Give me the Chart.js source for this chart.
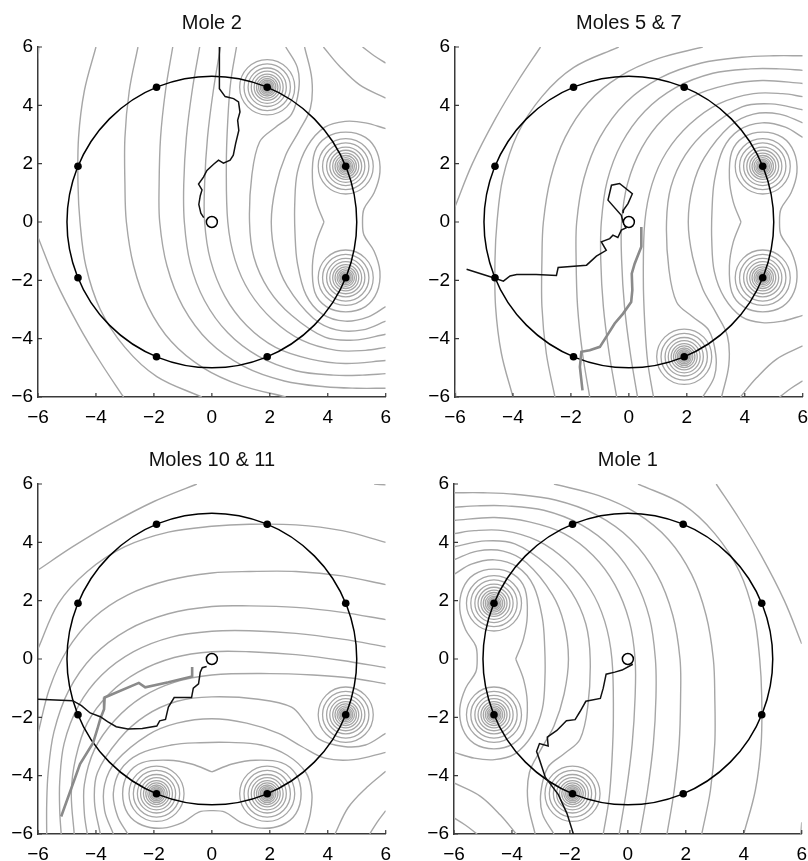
<!DOCTYPE html>
<html>
<head>
<meta charset="utf-8">
<script src="https://cdn.jsdelivr.net/npm/chart.js@4.4.1/dist/chart.umd.min.js"></script>
<style>
  body { margin: 0; background: #fff; width: 808px; height: 861px; overflow: hidden; position: relative; }
  .panel { position: absolute; width: 400px; height: 430px; }
</style>
</head>
<body>
<div class="panel" style="left:0;top:0"><canvas id="mole2" width="400" height="430"></canvas></div>
<div class="panel" style="left:417px;top:0"><canvas id="mole57" width="400" height="430"></canvas></div>
<div class="panel" style="left:0;top:437px"><canvas id="mole1011" width="400" height="430"></canvas></div>
<div class="panel" style="left:416px;top:437px"><canvas id="mole1" width="400" height="430"></canvas></div>
<script>
const FONT = "'Liberation Sans', Arial, Helvetica, sans-serif";
const axisTicks = [-6, -4, -2, 0, 2, 4, 6];
const arenaRadius = 5;
const startPoint = [0, 0];

// the 8 odour ports round the arena
const receptorX = [4.62, 1.91, -1.91, -4.62, -4.62, -1.91, 1.91, 4.62];
const receptorY = [1.91, 4.62, 4.62, 1.91, -1.91, -4.62, -4.62, -1.91];

// rings drawn round each active port (arena units)
const ringRadii = [0.95, 0.8, 0.66, 0.55, 0.45, 0.37, 0.3, 0.24, 0.19, 0.15, 0.11, 0.08];

// ---------- Mole 2 ----------
const mole2Sources = [1, 0, 7];
const mole2Contours = [
  [[-5.97,6],[-6,5.6]],
  [[-6,-0.52],[-5.4,-2.0],[-4.6,-3.55],[-3.85,-4.8],[-3.05,-6]],
  [[-4.0,6],[-4.4,4.5],[-4.6,2.9],[-4.62,1.3],[-4.55,0],[-4.35,-1.5],[-3.85,-3.0],[-3.0,-4.3],[-1.9,-5.3],[-0.35,-6]],
  [[-2.55,6],[-2.85,4.5],[-3.0,2.9],[-3.0,1.3],[-2.95,0],[-2.7,-1.5],[-2.2,-2.9],[-1.4,-4.1],[-0.3,-5.0],[1.0,-5.6],[2.55,-6]],
  [[-1.35,6],[-1.6,4.5],[-1.77,2.9],[-1.82,1.3],[-1.8,0],[-1.55,-1.5],[-1.0,-2.9],[-0.1,-4.1],[1.1,-4.95],[2.5,-5.45],[3.9,-5.65],[5.0,-5.7],[6,-5.7]],
  [[-0.42,6],[-0.68,4.5],[-0.88,2.9],[-0.97,1.3],[-0.95,0],[-0.75,-1.4],[-0.25,-2.7],[0.55,-3.8],[1.6,-4.6],[2.9,-5.1],[4.2,-5.25],[5.2,-5.25],[6,-5.2]],
  [[0.3,6],[0.05,4.5],[-0.15,2.9],[-0.25,1.3],[-0.25,0],[-0.05,-1.3],[0.45,-2.55],[1.2,-3.55],[2.2,-4.3],[3.4,-4.7],[4.6,-4.85],[6,-4.75]],
  [[0.85,6],[0.65,4.8],[0.55,3.5],[0.5,2.0],[0.55,0],[0.8,-1.3],[1.3,-2.4],[2.1,-3.35],[3.1,-4.05],[4.3,-4.4],[5.3,-4.4],[6,-4.3]],
  [[2.55,6],[2.95,5.3],[3.0,4.55],[2.75,3.7],[2.2,3.25],[1.65,2.75],[1.38,1.6],[1.3,0],[1.45,-1.2],[1.95,-2.3],[2.75,-3.2],[3.9,-3.95],[4.9,-4.05],[6,-3.85]],
  [[3.2,6],[3.45,4.9],[3.4,3.9],[3.0,3.1],[2.55,2.3],[2.2,1.2],[2.05,0],[2.2,-1.2],[2.6,-2.2],[3.5,-3.3],[4.3,-3.7],[5.2,-3.7],[6,-3.4]],
  [[6,3.2],[5.3,3.4],[4.6,3.45],[3.9,3.25],[3.3,2.6],[2.95,1.7],[2.86,0.6],[2.87,-0.4],[2.95,-1.4],[3.25,-2.5],[3.8,-3.15],[4.6,-3.4],[5.4,-3.25],[6,-2.9]],
  [[3.85,6],[4.4,5.35],[5.1,4.7],[6,4.25]],
  [[5.2,6],[5.6,5.7],[6,5.45]],
  [[3.87,0],[3.6,0.7],[3.47,1.5],[3.55,2.4],[3.95,2.9],[4.62,3.08],[5.3,2.9],[5.7,2.4],[5.8,1.7],[5.6,1.0],[5.25,0.45],[5.2,0],[5.25,-0.45],[5.6,-1.0],[5.8,-1.7],[5.7,-2.4],[5.3,-2.9],[4.62,-3.08],[3.95,-2.9],[3.55,-2.4],[3.47,-1.5],[3.6,-0.7],[3.87,0]]
];
const mole2Path = [[0.26,6],[0.26,4.57],[0.46,4.3],[0.75,4.23],[0.92,4.12],[0.97,3.77],[0.89,3.49],[0.93,3.14],[0.82,2.69],[0.74,2.29],[0.63,2.12],[0.4,2.02],[0.23,2.12],[0.06,1.98],[-0.17,1.77],[-0.29,1.54],[-0.46,1.3],[-0.34,1.1],[-0.4,0.9],[-0.45,0.6],[-0.38,0.3],[-0.28,0.15]];

// ---------- Moles 5 & 7 ----------
const mole57Sources = [0, 7, 6];
const mole57Contours = [
  [[-5.97,-6],[-6,-5.6]],
  [[-6,0.52],[-5.4,2.0],[-4.6,3.55],[-3.85,4.8],[-3.05,6]],
  [[-4.0,-6],[-4.4,-4.5],[-4.6,-2.9],[-4.62,-1.3],[-4.55,0],[-4.35,1.5],[-3.85,3.0],[-3.0,4.3],[-1.9,5.3],[-0.35,6]],
  [[-2.55,-6],[-2.85,-4.5],[-3.0,-2.9],[-3.0,-1.3],[-2.95,0],[-2.7,1.5],[-2.2,2.9],[-1.4,4.1],[-0.3,5.0],[1.0,5.6],[2.55,6]],
  [[-1.35,-6],[-1.6,-4.5],[-1.77,-2.9],[-1.82,-1.3],[-1.8,0],[-1.55,1.5],[-1.0,2.9],[-0.1,4.1],[1.1,4.95],[2.5,5.45],[3.9,5.65],[5.0,5.7],[6,5.7]],
  [[-0.42,-6],[-0.68,-4.5],[-0.88,-2.9],[-0.97,-1.3],[-0.95,0],[-0.75,1.4],[-0.25,2.7],[0.55,3.8],[1.6,4.6],[2.9,5.1],[4.2,5.25],[5.2,5.25],[6,5.2]],
  [[0.3,-6],[0.05,-4.5],[-0.15,-2.9],[-0.25,-1.3],[-0.25,0],[-0.05,1.3],[0.45,2.55],[1.2,3.55],[2.2,4.3],[3.4,4.7],[4.6,4.85],[6,4.75]],
  [[0.85,-6],[0.65,-4.8],[0.55,-3.5],[0.5,-2.0],[0.55,0],[0.8,1.3],[1.3,2.4],[2.1,3.35],[3.1,4.05],[4.3,4.4],[5.3,4.4],[6,4.3]],
  [[2.55,-6],[2.95,-5.3],[3.0,-4.55],[2.75,-3.7],[2.2,-3.25],[1.65,-2.75],[1.38,-1.6],[1.3,0],[1.45,1.2],[1.95,2.3],[2.75,3.2],[3.9,3.95],[4.9,4.05],[6,3.85]],
  [[3.2,-6],[3.45,-4.9],[3.4,-3.9],[3.0,-3.1],[2.55,-2.3],[2.2,-1.2],[2.05,0],[2.2,1.2],[2.6,2.2],[3.5,3.3],[4.3,3.7],[5.2,3.7],[6,3.4]],
  [[6,-3.2],[5.3,-3.4],[4.6,-3.45],[3.9,-3.25],[3.3,-2.6],[2.95,-1.7],[2.86,-0.6],[2.87,0.4],[2.95,1.4],[3.25,2.5],[3.8,3.15],[4.6,3.4],[5.4,3.25],[6,2.9]],
  [[3.85,-6],[4.4,-5.35],[5.1,-4.7],[6,-4.25]],
  [[5.2,-6],[5.6,-5.7],[6,-5.45]],
  [[3.87,0],[3.6,-0.7],[3.47,-1.5],[3.55,-2.4],[3.95,-2.9],[4.62,-3.08],[5.3,-2.9],[5.7,-2.4],[5.8,-1.7],[5.6,-1.0],[5.25,-0.45],[5.2,0],[5.25,0.45],[5.6,1.0],[5.8,1.7],[5.7,2.4],[5.3,2.9],[4.62,3.08],[3.95,2.9],[3.55,2.4],[3.47,1.5],[3.6,0.7],[3.87,0]]
];
const mole57Path = [[-5.6,-1.62],[-4.62,-1.93],[-4.33,-2.03],[-4.1,-1.85],[-3.87,-1.8],[-3.2,-1.8],[-2.5,-1.83],[-2.44,-1.56],[-1.46,-1.48],[-1.12,-1.17],[-0.78,-0.97],[-0.95,-0.68],[-0.66,-0.57],[-0.55,-0.45],[-0.38,-0.53],[-0.26,-0.28],[-0.1,-0.2],[-0.2,0.0],[-0.26,0.23],[-0.72,0.75],[-0.6,1.26],[-0.32,1.32],[0.12,0.97],[-0.03,0.63],[-0.18,0.42],[-0.2,0.3]];
const mole57GreyPath = [[0.43,-0.17],[0.43,-0.85],[0.2,-1.43],[0.1,-1.77],[0.12,-2.34],[0.08,-2.74],[-0.2,-3.14],[-0.49,-3.48],[-0.78,-3.94],[-1.0,-4.28],[-1.35,-4.4],[-1.64,-4.45],[-1.69,-4.97],[-1.6,-5.77]];

// ---------- Moles 10 & 11 ----------
const mole1011Sources = [7, 6, 5];
const mole1011Contours = [
  [[6,5.97],[5.6,6]],
  [[-0.52,6],[-2.0,5.4],[-3.55,4.6],[-4.8,3.85],[-6,3.05]],
  [[6,4.0],[4.5,4.4],[2.9,4.6],[1.3,4.62],[0,4.55],[-1.5,4.35],[-3.0,3.85],[-4.3,3.0],[-5.3,1.9],[-6,0.35]],
  [[6,2.55],[4.5,2.85],[2.9,3.0],[1.3,3.0],[0,2.95],[-1.5,2.7],[-2.9,2.2],[-4.1,1.4],[-5.0,0.3],[-5.6,-1.0],[-6,-2.55]],
  [[6,1.35],[4.5,1.6],[2.9,1.77],[1.3,1.82],[0,1.8],[-1.5,1.55],[-2.9,1.0],[-4.1,0.1],[-4.95,-1.1],[-5.45,-2.5],[-5.65,-3.9],[-5.7,-5.0],[-5.7,-6]],
  [[6,0.42],[4.5,0.68],[2.9,0.88],[1.3,0.97],[0,0.95],[-1.4,0.75],[-2.7,0.25],[-3.8,-0.55],[-4.6,-1.6],[-5.1,-2.9],[-5.25,-4.2],[-5.25,-5.2],[-5.2,-6]],
  [[6,-0.3],[4.5,-0.05],[2.9,0.15],[1.3,0.25],[0,0.25],[-1.3,0.05],[-2.55,-0.45],[-3.55,-1.2],[-4.3,-2.2],[-4.7,-3.4],[-4.85,-4.6],[-4.75,-6]],
  [[6,-0.85],[4.8,-0.65],[3.5,-0.55],[2.0,-0.5],[0,-0.55],[-1.3,-0.8],[-2.4,-1.3],[-3.35,-2.1],[-4.05,-3.1],[-4.4,-4.3],[-4.4,-5.3],[-4.3,-6]],
  [[6,-2.55],[5.3,-2.95],[4.55,-3.0],[3.7,-2.75],[3.25,-2.2],[2.75,-1.65],[1.6,-1.38],[0,-1.3],[-1.2,-1.45],[-2.3,-1.95],[-3.2,-2.75],[-3.95,-3.9],[-4.05,-4.9],[-3.85,-6]],
  [[6,-3.2],[4.9,-3.45],[3.9,-3.4],[3.1,-3.0],[2.3,-2.55],[1.2,-2.2],[0,-2.05],[-1.2,-2.2],[-2.2,-2.6],[-3.3,-3.5],[-3.7,-4.3],[-3.7,-5.2],[-3.4,-6]],
  [[3.2,-6],[3.4,-5.3],[3.45,-4.6],[3.25,-3.9],[2.6,-3.3],[1.7,-2.95],[0.6,-2.86],[-0.4,-2.87],[-1.4,-2.95],[-2.5,-3.25],[-3.15,-3.8],[-3.4,-4.6],[-3.25,-5.4],[-2.9,-6]],
  [[6,-3.85],[5.35,-4.4],[4.7,-5.1],[4.25,-6]],
  [[6,-5.2],[5.7,-5.6],[5.45,-6]],
  [[0,-3.87],[0.7,-3.6],[1.5,-3.47],[2.4,-3.55],[2.9,-3.95],[3.08,-4.62],[2.9,-5.3],[2.4,-5.7],[1.7,-5.8],[1.0,-5.6],[0.45,-5.25],[0,-5.2],[-0.45,-5.25],[-1.0,-5.6],[-1.7,-5.8],[-2.4,-5.7],[-2.9,-5.3],[-3.08,-4.62],[-2.9,-3.95],[-2.4,-3.55],[-1.5,-3.47],[-0.7,-3.6],[0,-3.87]]
];
const mole1011Path = [[-6,-1.38],[-4.8,-1.43],[-4.5,-1.6],[-4.2,-1.85],[-3.85,-1.98],[-3.6,-2.15],[-3.3,-2.32],[-2.9,-2.4],[-2.4,-2.38],[-1.9,-2.3],[-1.8,-2.12],[-1.6,-2.07],[-1.5,-1.65],[-1.3,-1.32],[-0.7,-1.32],[-0.64,-1.0],[-0.46,-0.85],[-0.4,-0.45],[-0.33,-0.3],[-0.18,-0.26]];
const mole1011GreyPath = [[-0.68,-0.27],[-0.68,-0.6],[-1.5,-0.8],[-2.3,-0.97],[-2.52,-0.82],[-3.7,-1.32],[-3.72,-1.72],[-3.85,-2.05],[-3.95,-2.4],[-4.1,-2.88],[-4.55,-3.6],[-5.2,-5.4]];

// ---------- Mole 1 ----------
const mole1Sources = [5, 4, 3];
const mole1Contours = [
  [[5.97,-6],[6,-5.6]],
  [[6,0.52],[5.4,2.0],[4.6,3.55],[3.85,4.8],[3.05,6]],
  [[4.0,-6],[4.4,-4.5],[4.6,-2.9],[4.62,-1.3],[4.55,0],[4.35,1.5],[3.85,3.0],[3.0,4.3],[1.9,5.3],[0.35,6]],
  [[2.55,-6],[2.85,-4.5],[3.0,-2.9],[3.0,-1.3],[2.95,0],[2.7,1.5],[2.2,2.9],[1.4,4.1],[0.3,5.0],[-1.0,5.6],[-2.55,6]],
  [[1.35,-6],[1.6,-4.5],[1.77,-2.9],[1.82,-1.3],[1.8,0],[1.55,1.5],[1.0,2.9],[0.1,4.1],[-1.1,4.95],[-2.5,5.45],[-3.9,5.65],[-5.0,5.7],[-6,5.7]],
  [[0.42,-6],[0.68,-4.5],[0.88,-2.9],[0.97,-1.3],[0.95,0],[0.75,1.4],[0.25,2.7],[-0.55,3.8],[-1.6,4.6],[-2.9,5.1],[-4.2,5.25],[-5.2,5.25],[-6,5.2]],
  [[-0.3,-6],[-0.05,-4.5],[0.15,-2.9],[0.25,-1.3],[0.25,0],[0.05,1.3],[-0.45,2.55],[-1.2,3.55],[-2.2,4.3],[-3.4,4.7],[-4.6,4.85],[-6,4.75]],
  [[-0.85,-6],[-0.65,-4.8],[-0.55,-3.5],[-0.5,-2.0],[-0.55,0],[-0.8,1.3],[-1.3,2.4],[-2.1,3.35],[-3.1,4.05],[-4.3,4.4],[-5.3,4.4],[-6,4.3]],
  [[-2.55,-6],[-2.95,-5.3],[-3.0,-4.55],[-2.75,-3.7],[-2.2,-3.25],[-1.65,-2.75],[-1.38,-1.6],[-1.3,0],[-1.45,1.2],[-1.95,2.3],[-2.75,3.2],[-3.9,3.95],[-4.9,4.05],[-6,3.85]],
  [[-3.2,-6],[-3.45,-4.9],[-3.4,-3.9],[-3.0,-3.1],[-2.55,-2.3],[-2.2,-1.2],[-2.05,0],[-2.2,1.2],[-2.6,2.2],[-3.5,3.3],[-4.3,3.7],[-5.2,3.7],[-6,3.4]],
  [[-6,-3.2],[-5.3,-3.4],[-4.6,-3.45],[-3.9,-3.25],[-3.3,-2.6],[-2.95,-1.7],[-2.86,-0.6],[-2.87,0.4],[-2.95,1.4],[-3.25,2.5],[-3.8,3.15],[-4.6,3.4],[-5.4,3.25],[-6,2.9]],
  [[-3.85,-6],[-4.4,-5.35],[-5.1,-4.7],[-6,-4.25]],
  [[-5.2,-6],[-5.6,-5.7],[-6,-5.45]],
  [[-3.87,0],[-3.6,0.7],[-3.47,1.5],[-3.55,2.4],[-3.95,2.9],[-4.62,3.08],[-5.3,2.9],[-5.7,2.4],[-5.8,1.7],[-5.6,1.0],[-5.25,0.45],[-5.2,0],[-5.25,-0.45],[-5.6,-1.0],[-5.8,-1.7],[-5.7,-2.4],[-5.3,-2.9],[-4.62,-3.08],[-3.95,-2.9],[-3.55,-2.4],[-3.47,-1.5],[-3.6,-0.7],[-3.87,0]]
];
const mole1Path = [[0.17,-0.18],[-0.2,-0.38],[-0.45,-0.45],[-0.75,-0.52],[-0.85,-1.0],[-0.95,-1.35],[-1.45,-1.45],[-1.65,-1.8],[-1.82,-2.08],[-2.12,-2.12],[-2.45,-2.45],[-2.78,-2.68],[-2.75,-2.98],[-3.05,-2.9],[-3.15,-3.17],[-3.05,-3.45],[-2.85,-4.05],[-2.4,-4.65],[-2.1,-5.3],[-1.88,-6]];

const panels = [
  { canvas: 'mole2', title: 'Mole 2', sources: mole2Sources, contours: mole2Contours, paths: [mole2Path], greyPaths: [] },
  { canvas: 'mole57', title: 'Moles 5 & 7', sources: mole57Sources, contours: mole57Contours, paths: [mole57Path], greyPaths: [mole57GreyPath] },
  { canvas: 'mole1011', title: 'Moles 10 & 11', sources: mole1011Sources, contours: mole1011Contours, paths: [mole1011Path], greyPaths: [mole1011GreyPath] },
  { canvas: 'mole1', title: 'Mole 1', sources: mole1Sources, contours: mole1Contours, paths: [mole1Path], greyPaths: [] }
];

const CONTOUR = '#a6a6a6';
const AXIS = '#3a3a3a';

function toPoints(list) {
  return list.map(function(p) { return { x: p[0], y: p[1] }; });
}

function minusLabel(v) {
  return v < 0 ? '\u2212' + Math.abs(v) : String(v);
}

// rings round the active ports, the arena circle and the inward tick marks
const arenaPlugin = {
  id: 'arena',
  beforeDatasetsDraw(chart) {
    const ctx = chart.ctx, a = chart.chartArea;
    const xs = chart.scales.x, ys = chart.scales.y;
    const kx = Math.abs(xs.getPixelForValue(1) - xs.getPixelForValue(0));
    const ky = Math.abs(ys.getPixelForValue(1) - ys.getPixelForValue(0));
    ctx.save();
    ctx.beginPath();
    ctx.rect(a.left, a.top, a.right - a.left, a.bottom - a.top);
    ctx.clip();
    ctx.strokeStyle = CONTOUR;
    ctx.lineWidth = 1.3;
    chart.options.plugins.arena.sources.forEach(function(i) {
      const cx = xs.getPixelForValue(receptorX[i]);
      const cy = ys.getPixelForValue(receptorY[i]);
      ringRadii.forEach(function(r) {
        ctx.beginPath();
        ctx.ellipse(cx, cy, r * kx, r * ky, 0, 0, Math.PI * 2);
        ctx.stroke();
      });
    });
    ctx.restore();
  },
  afterDatasetDraw(chart, args) {
    if (args.index !== 0) return;
    const ctx = chart.ctx;
    const xs = chart.scales.x, ys = chart.scales.y;
    const cx = xs.getPixelForValue(startPoint[0]);
    const cy = ys.getPixelForValue(startPoint[1]);
    const rx = Math.abs(xs.getPixelForValue(arenaRadius) - cx);
    const ry = Math.abs(ys.getPixelForValue(arenaRadius) - cy);
    ctx.save();
    ctx.strokeStyle = '#000';
    ctx.lineWidth = 1.5;
    ctx.beginPath();
    ctx.ellipse(cx, cy, rx, ry, 0, 0, Math.PI * 2);
    ctx.stroke();
    ctx.restore();
  },
  afterDraw(chart) {
    const ctx = chart.ctx, a = chart.chartArea;
    const xs = chart.scales.x, ys = chart.scales.y;
    ctx.save();
    ctx.strokeStyle = AXIS;
    ctx.lineWidth = 1.2;
    axisTicks.forEach(function(v) {
      const px = xs.getPixelForValue(v);
      const py = ys.getPixelForValue(v);
      ctx.beginPath();
      ctx.moveTo(px, a.bottom);
      ctx.lineTo(px, a.bottom - 4);
      ctx.moveTo(a.left, py);
      ctx.lineTo(a.left + 4, py);
      ctx.stroke();
    });
    ctx.restore();
  }
};

function makeChart(p) {
  const datasets = [];
  p.contours.forEach(function(line) {
    datasets.push({
      data: toPoints(line), showLine: true, pointRadius: 0, borderColor: CONTOUR,
      borderWidth: 1.4, tension: 0.35, fill: false, order: 5
    });
  });
  p.greyPaths.forEach(function(line) {
    datasets.push({
      data: toPoints(line), showLine: true, pointRadius: 0, borderColor: '#8a8a8a',
      borderWidth: 2.6, tension: 0, fill: false, order: 3
    });
  });
  p.paths.forEach(function(line) {
    datasets.push({
      data: toPoints(line), showLine: true, pointRadius: 0, borderColor: '#111',
      borderWidth: 1.5, tension: 0, fill: false, order: 2
    });
  });
  datasets.push({
    data: receptorX.map(function(x, i) { return { x: x, y: receptorY[i] }; }),
    showLine: false, pointRadius: 3.8, backgroundColor: '#000', borderWidth: 0, order: 1
  });
  datasets.push({
    data: [{ x: startPoint[0], y: startPoint[1] }],
    showLine: false, pointRadius: 5.5, backgroundColor: '#fff', borderColor: '#000',
    borderWidth: 1.5, order: 0
  });

  const tickFont = { family: FONT, size: 19 };
  new Chart(document.getElementById(p.canvas), {
    type: 'scatter',
    data: { datasets: datasets },
    options: {
      responsive: false,
      animation: false,
      layout: { padding: { left: 0, right: 12, top: 0, bottom: 0 } },
      plugins: {
        legend: { display: false },
        tooltip: { enabled: false },
        title: {
          display: true, text: p.title, fullSize: false, color: '#111',
          font: { family: FONT, size: 20, weight: 'normal' },
          padding: { top: 11, bottom: 12 }
        },
        arena: { sources: p.sources }
      },
      scales: {
        x: {
          type: 'linear', min: -6, max: 6,
          grid: { display: false, drawTicks: false },
          border: { display: true, color: AXIS, width: 1.5 },
          ticks: { stepSize: 2, font: tickFont, color: '#000', padding: 9, maxRotation: 0, autoSkip: false, callback: minusLabel },
          afterFit: function(s) { s.height = 33; }
        },
        y: {
          type: 'linear', min: -6, max: 6,
          grid: { display: false, drawTicks: false },
          border: { display: true, color: AXIS, width: 1.5 },
          ticks: { stepSize: 2, font: tickFont, color: '#000', padding: 5, autoSkip: false, callback: minusLabel },
          afterFit: function(s) { s.width = 38; }
        }
      }
    },
    plugins: [arenaPlugin]
  });
}

panels.forEach(makeChart);
</script>
</body>
</html>
